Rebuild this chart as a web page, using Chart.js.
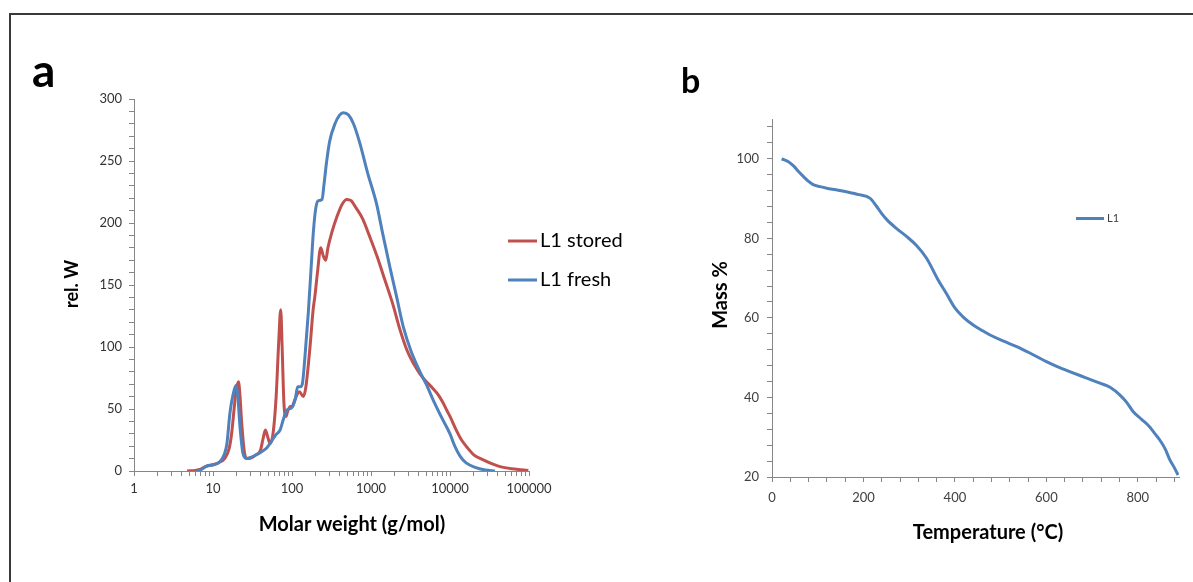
<!DOCTYPE html>
<html>
<head>
<meta charset="utf-8">
<script src="https://cdn.jsdelivr.net/npm/chart.js@4.4.1/dist/chart.umd.min.js"></script>
<style>
  html, body { margin: 0; padding: 0; background: #fff; }
  #page { position: relative; width: 1193px; height: 582px; background: #fff; overflow: hidden; }
  #page canvas { position: absolute; left: 0; top: 0; }
  .frame-top { position: absolute; left: 9px; top: 13px; right: 0; height: 2px; background: #3a3a3a; }
  .frame-left { position: absolute; left: 9px; top: 13px; bottom: 0; width: 2px; background: #3a3a3a; }
</style>
</head>
<body>
<div id="page">
  <div class="frame-top"></div>
  <div class="frame-left"></div>
  <canvas id="gpc" width="1193" height="582"></canvas>
  <canvas id="tga" width="1193" height="582"></canvas>
</div>
<script>
// ---- Panel a: molar weight distribution (GPC) ----
const molarStored = [4.7, 6, 7, 8, 10, 12, 14, 16, 17.2, 18.5, 19.5, 21, 22, 23, 25, 27, 30, 35, 40, 43,
  46, 49, 53, 58, 63, 68, 72, 75, 79, 84, 88, 95, 100, 108, 124, 139, 150, 169, 185, 195,
  210, 231, 250, 267, 285, 318, 370, 430, 493, 560, 650, 790, 950, 1180, 1500, 1900, 2300, 2830, 3500, 4200,
  5030, 6000, 7000, 8000, 9100, 10000, 12000, 14000, 16200, 20000, 26400, 35000, 43000, 60000, 80000, 98000];
const relWStored = [0, 0.5, 1.5, 3.5, 5, 7, 10, 18, 30, 50, 64, 72, 60, 40, 15, 10, 10.5, 13, 17, 26,
  33, 28, 22, 32, 60, 105, 130, 100, 55, 44, 48, 52, 52, 57, 64, 60, 68, 100, 130, 141,
  160, 180, 173, 170, 180, 192, 205, 215, 219, 218, 212, 203, 190, 174, 154, 134, 115, 98, 86, 78,
  72, 67, 62, 56, 49, 44, 33, 25, 19.6, 13, 9, 5.5, 3.5, 1.8, 1, 0.5];

const molarFresh = [6.2, 7, 8.3, 10, 12, 14, 15, 16.4, 18, 19.5, 20.5, 22, 24, 26.7, 30, 35, 40, 47.8, 55, 62,
  70.5, 78, 85.5, 99, 110, 118, 128, 135, 145, 161, 175, 186, 200, 216, 240, 255, 275, 300, 350, 400,
  447, 520, 600, 725, 900, 1180, 1400, 1740, 2100, 2570, 3200, 4170, 5000, 6150, 8000, 10000, 11500, 13400, 16000, 21800,
  28000, 37000];
const relWFresh = [0, 1, 4, 5, 7, 14, 22, 47, 62, 69, 62, 35, 14, 10, 11, 13, 15, 18.5, 24, 29,
  33, 42, 49, 51, 58, 68, 68, 70, 90, 128, 165, 192, 212, 218, 219, 232, 250, 266, 280, 287,
  289, 287, 280, 264, 241, 215, 192, 164, 141, 116, 97, 80, 70, 57, 42, 30, 20, 12, 6.5, 2.5,
  0.8, 0];

const molarTickLabels = [1, 10, 100, 1000, 10000, 100000];
const relWTickLabels = [0, 50, 100, 150, 200, 250, 300];

// ---- Panel b: thermogravimetric curve ----
const temperature = [21, 35, 47, 58, 69, 80, 90, 105, 120, 140, 163, 190, 214, 229, 240, 251, 272, 294, 316, 338,
  363, 381, 400, 420, 440, 460, 477, 505, 535, 570, 600, 625, 651, 685, 717, 740, 761, 776, 790, 808,
  826, 838, 848, 860, 870, 880, 888];
const massPercent = [100, 99.3, 98.2, 96.8, 95.5, 94.3, 93.5, 93.0, 92.6, 92.2, 91.7, 91.0, 90.1, 88.0, 86.2, 84.7, 82.5, 80.5, 78.2, 75.0,
  69.6, 66.2, 62.5, 60.0, 58.2, 56.8, 55.7, 54.2, 52.8, 50.8, 49.0, 47.7, 46.5, 45.0, 43.6, 42.5, 40.6, 38.7, 36.4, 34.5,
  32.6, 30.8, 29.3, 27.0, 24.3, 22.3, 20.5];

const temperatureTickLabels = [0, 200, 400, 600, 800];
const massTickLabels = [20, 40, 60, 80, 100];

const RED = '#C0504D';
const BLUE = '#4F81BD';
const AXIS = '#868686';
const FONT = 'Lato, "Open Sans", "DejaVu Sans", sans-serif';

const toPoints = (xs, ys) => xs.map((x, i) => ({ x, y: ys[i] }));
const range = (from, to, step) => { const out = []; for (let v = from; v <= to + 1e-9; v += step) out.push(+v.toFixed(6)); return out; };

// log axis: a tick at every 1..9 × 10^n, labelled at the decades
const logTickValues = [];
for (let d = 1; d < 100000; d *= 10) for (let m = 1; m < 10; m++) logTickValues.push(d * m);
logTickValues.push(100000);

// free text (panel letters, axis titles) drawn on the chart canvas
const canvasText = {
  id: 'canvasText',
  afterDraw(chart, args, opts) {
    const ctx = chart.ctx;
    (opts.items || []).forEach(it => {
      ctx.save();
      ctx.font = it.font;
      ctx.fillStyle = it.color || '#000';
      ctx.textAlign = it.align || 'left';
      ctx.textBaseline = it.baseline || 'alphabetic';
      ctx.translate(it.x, it.y);
      if (it.rotate) ctx.rotate(it.rotate);
      ctx.fillText(it.text, 0, 0);
      ctx.restore();
    });
  }
};

// legend placed freely over the plot: short line sample + dataset label
const lineLegend = {
  id: 'lineLegend',
  afterDraw(chart, args, opts) {
    const ctx = chart.ctx;
    chart.data.datasets.forEach((ds, i) => {
      const y = opts.y + i * (opts.gap || 0);
      ctx.save();
      ctx.strokeStyle = ds.borderColor;
      ctx.lineWidth = opts.lineWidth;
      ctx.beginPath();
      ctx.moveTo(opts.x, y);
      ctx.lineTo(opts.x + opts.length, y);
      ctx.stroke();
      ctx.font = opts.font;
      ctx.fillStyle = opts.color;
      ctx.textAlign = 'left';
      ctx.textBaseline = 'middle';
      ctx.fillText(ds.label, opts.x + opts.length + opts.spacing, y);
      ctx.restore();
    });
  }
};

const axisGrid = { drawOnChartArea: false, drawTicks: true, tickLength: 5, color: AXIS, lineWidth: 1 };
const axisBorder = { color: AXIS, width: 1 };

new Chart(document.getElementById('gpc'), {
  type: 'line',
  data: {
    datasets: [
      { label: 'L1 stored', data: toPoints(molarStored, relWStored), borderColor: RED, backgroundColor: RED,
        borderWidth: 3, pointRadius: 0, cubicInterpolationMode: 'monotone', order: 1 },
      { label: 'L1 fresh', data: toPoints(molarFresh, relWFresh), borderColor: BLUE, backgroundColor: BLUE,
        borderWidth: 3, pointRadius: 0, cubicInterpolationMode: 'monotone', order: 0 }
    ]
  },
  options: {
    responsive: false, animation: false, events: [], devicePixelRatio: 1,
    layout: { padding: { left: 0, top: 99, right: 664, bottom: 0 } },
    scales: {
      x: {
        type: 'logarithmic', min: 1, max: 100000,
        afterBuildTicks: s => { s.ticks = logTickValues.map(v => ({ value: v })); },
        afterFit: s => { s.height = 111; },
        grid: axisGrid, border: axisBorder,
        ticks: { autoSkip: false, maxRotation: 0, padding: 5, color: '#333',
          font: { family: FONT, size: 13 },
          callback: v => molarTickLabels.includes(v) ? String(v) : '' }
      },
      y: {
        type: 'linear', min: 0, max: 300,
        afterBuildTicks: s => { s.ticks = range(0, 300, 10).map(v => ({ value: v })); },
        afterFit: s => { s.width = 134; },
        grid: axisGrid, border: axisBorder,
        ticks: { autoSkip: false, padding: 7, color: '#333',
          font: { family: FONT, size: 13 },
          callback: v => relWTickLabels.includes(v) ? String(v) : '' }
      }
    },
    plugins: {
      legend: { display: false }, tooltip: { enabled: false },
      lineLegend: { x: 508, y: 241, gap: 39, length: 29, spacing: 3, lineWidth: 3,
        font: '20px ' + FONT, color: '#000' },
      canvasText: { items: [
        { text: 'a', x: 32, y: 87, font: 'bold 46px ' + FONT },
        { text: 'rel. W', x: 72, y: 284, font: 'bold 18px ' + FONT, align: 'center', baseline: 'middle', rotate: -Math.PI / 2 },
        { text: 'Molar weight (g/mol)', x: 352, y: 525, font: 'bold 20px ' + FONT, align: 'center', baseline: 'middle' }
      ] }
    }
  },
  plugins: [lineLegend, canvasText]
});

new Chart(document.getElementById('tga'), {
  type: 'line',
  data: {
    datasets: [
      { label: 'L1', data: toPoints(temperature, massPercent), borderColor: BLUE, backgroundColor: BLUE,
        borderWidth: 3, pointRadius: 0, cubicInterpolationMode: 'monotone' }
    ]
  },
  options: {
    responsive: false, animation: false, events: [], devicePixelRatio: 1,
    layout: { padding: { left: 650, top: 119, right: 14, bottom: 0 } },
    scales: {
      x: {
        type: 'linear', min: 0, max: 890,
        afterBuildTicks: s => { s.ticks = range(0, 880, 40).map(v => ({ value: v })); },
        afterFit: s => { s.height = 105; },
        grid: axisGrid, border: axisBorder,
        ticks: { autoSkip: false, maxRotation: 0, padding: 8, color: '#404040',
          font: { family: FONT, size: 13 },
          callback: v => temperatureTickLabels.includes(v) ? String(v) : '' }
      },
      y: {
        type: 'linear', min: 20, max: 110,
        afterBuildTicks: s => { s.ticks = range(20, 108, 4).map(v => ({ value: v })); },
        afterFit: s => { s.width = 122; },
        grid: axisGrid, border: axisBorder,
        ticks: { autoSkip: false, padding: 8, color: '#404040',
          font: { family: FONT, size: 13 },
          callback: v => massTickLabels.includes(v) ? String(v) : '' }
      }
    },
    plugins: {
      legend: { display: false }, tooltip: { enabled: false },
      lineLegend: { x: 1076, y: 218.5, length: 28, spacing: 3, lineWidth: 3,
        font: '11px ' + FONT, color: '#404040' },
      canvasText: { items: [
        { text: 'b', x: 681, y: 93, font: 'bold 34px ' + FONT },
        { text: 'Mass %', x: 721, y: 295, font: 'bold 20px ' + FONT, align: 'center', baseline: 'middle', rotate: -Math.PI / 2 },
        { text: 'Temperature (°C)', x: 988, y: 533, font: 'bold 20px ' + FONT, align: 'center', baseline: 'middle' }
      ] }
    }
  },
  plugins: [lineLegend, canvasText]
});
</script>
</body>
</html>
